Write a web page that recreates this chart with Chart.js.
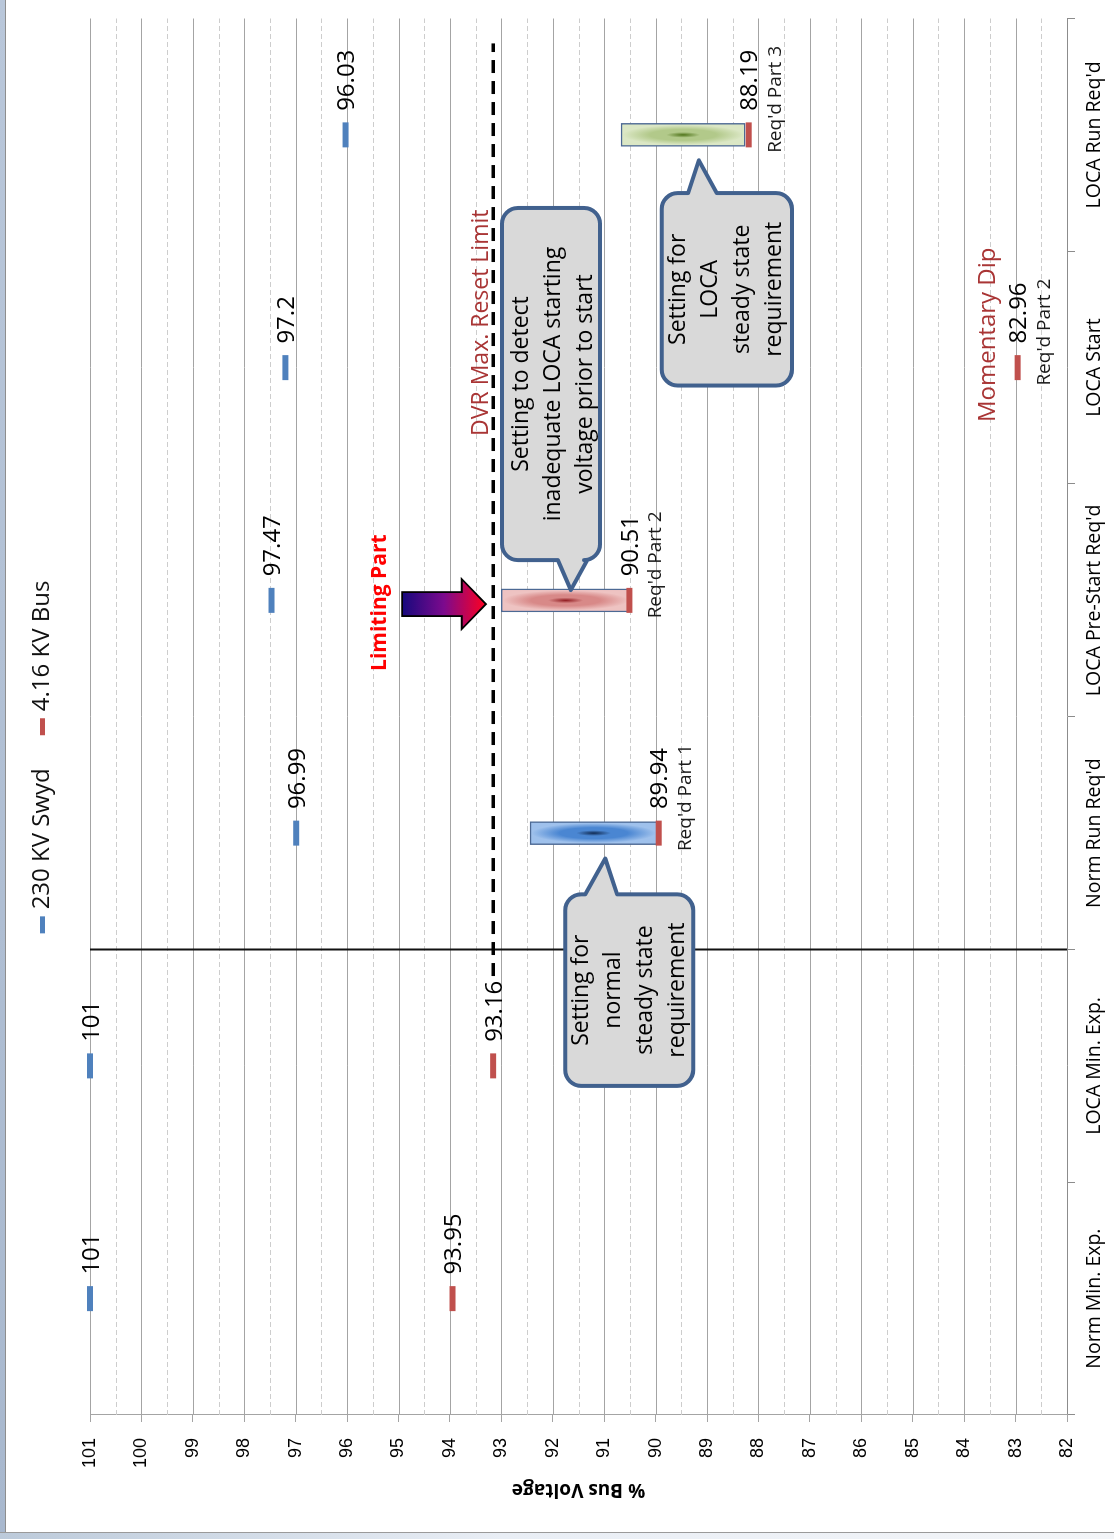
<!DOCTYPE html>
<html>
<head>
<meta charset="utf-8">
<title>% Bus Voltage</title>
<script src="https://cdn.jsdelivr.net/npm/chart.js@4.4.1/dist/chart.umd.min.js"></script>
<style>
    html, body { margin: 0; padding: 0; background: #fff; }
    body { width: 1114px; height: 1539px; position: relative; overflow: hidden; }
    /* chart is laid out upright, then turned a quarter turn to the left */
    #turn { position: absolute; left: 0; top: 0; width: 1539px; height: 1114px;
            transform-origin: 0 0; transform: translateY(1539px) rotate(-90deg); }
    #frameLeft { position: absolute; left: 0; top: 0; width: 5px; height: 1539px;
                 background: linear-gradient(#b9c7da, #a8b8ce); border-right: 1px solid #8e8e8e; }
    #frameBottom { position: absolute; left: 0; top: 1532px; width: 1114px; height: 7px;
                   background: linear-gradient(90deg, #bccada, #e9eef5 45%, #f3f5f8);
                   border-top: 1px solid #9a9a9a; }
</style>
</head>
<body>
<div id="turn"><canvas id="voltageChart" width="1539" height="1114"></canvas></div>
<div id="frameLeft"></div>
<div id="frameBottom"></div>
<script>
const categories = ['Norm Min. Exp.', 'LOCA Min. Exp.', "Norm Run Req'd", "LOCA Pre-Start Req'd", 'LOCA Start', "LOCA Run Req'd"];
const swydVoltage = [101, 101, 96.99, 97.47, 97.2, 96.03];
const busVoltage = [93.95, 93.16, 89.94, 90.51, 82.96, 88.19];
const busNotes = ['', '', "Req'd Part 1", "Req'd Part 2", "Req'd Part 2", "Req'd Part 3"];
const settingBands = [null, null, [89.97, 92.44], [90.5, 93.0], null, [88.26, 90.67]];
const dvrResetLimit = 93.16;
const voltageMin = 82;
const voltageMax = 101;

const SWYD_BLUE = '#4f81bd';
const BUS_RED = '#c0504d';
const NOTE_RED = '#a93535';

// light / mid / dark for each setting band
const bandPalettes = [null, null,
    { light: '#9fc1ec', mid: '#4a86d2', dark: '#102a52' },
    { light: '#eec3c2', mid: '#d88988', dark: '#921d22' },
    null,
    { light: '#dbe7c5', mid: '#b2c98a', dark: '#4f741a' }];

// annotations, placed in category units (c) and volts (v)
const callouts = [
    { c: [0.914, 1.737], v: [91.76, 89.27], side: 'right', base: [91.37, 90.75], tip: [1.891, 90.98],
      lines: ['Setting for', 'normal', 'steady state', 'requirement'], shift: 0 },
    { c: [3.173, 4.686], v: [92.99, 91.08], side: 'left', base: [91.90, 91.33], tip: [3.044, 91.65],
      lines: ['Setting to detect', 'inadequate LOCA starting', 'voltage prior to start'], shift: 2 },
    { c: [3.923, 4.75], v: [89.88, 87.35], side: 'right', base: [89.37, 88.81], tip: [4.891, 89.16],
      lines: ['Setting for', 'LOCA', 'steady state', 'requirement'], shift: 0 }
];
const limitArrow = { c: 2.984, from: 94.93, neck: 93.77, to: 93.30 };
const notes = [
    { text: 'Limiting Part', c: 2.99, v: 95.36, color: '#ff0000', font: 'bold 21px "Open Sans"' },
    { text: 'DVR Max. Reset Limit', c: 4.193, v: 93.38, color: NOTE_RED, font: '23px "Open Sans"' },
    { text: 'Momentary Dip', c: 4.141, v: 83.54, color: NOTE_RED, font: '24px "Open Sans"' }
];

const gridPlugin = {
    id: 'voltGrid',
    beforeDatasetsDraw(chart) {
        const { ctx, chartArea: a, scales: { y } } = chart;
        ctx.save();
        ctx.lineWidth = 1;
        for (let v = voltageMin + 0.5; v < voltageMax; v += 1) {
            const p = Math.round(y.getPixelForValue(v)) + 0.5;
            ctx.strokeStyle = '#cdcdcd';
            ctx.setLineDash([5, 3]);
            ctx.beginPath(); ctx.moveTo(a.left, p); ctx.lineTo(a.right, p); ctx.stroke();
        }
        ctx.setLineDash([]);
        for (let v = voltageMin + 1; v <= voltageMax; v += 1) {
            const p = Math.round(y.getPixelForValue(v)) + 0.5;
            ctx.strokeStyle = '#a4a4a4';
            ctx.beginPath(); ctx.moveTo(a.left, p); ctx.lineTo(a.right, p); ctx.stroke();
        }
        ctx.restore();
    }
};

const bandPlugin = {
    id: 'bandShade',
    afterDatasetDraw(chart, args) {
        if (args.meta.type !== 'bar') return;
        const ctx = chart.ctx;
        args.meta.data.forEach((el, i) => {
            const pal = bandPalettes[i];
            if (!pal || !settingBands[i]) return;
            const { x, y, base, width } = el.getProps(['x', 'y', 'base', 'width'], true);
            const top = Math.min(y, base) + 1.5, bottom = Math.max(y, base) - 1.5;
            const left = x - width / 2 + 1.5, right = x + width / 2 - 1.5;
            ctx.save();
            ctx.beginPath(); ctx.rect(left, top, right - left, bottom - top); ctx.clip();
            ctx.translate((left + right) / 2, (top + bottom) / 2);
            ctx.scale((right - left) / 2, (bottom - top) / 2);
            const g = ctx.createRadialGradient(0, 0, 0, 0, 0, 1);
            g.addColorStop(0, pal.dark);
            g.addColorStop(0.28, pal.mid);
            g.addColorStop(0.55, pal.mid);
            g.addColorStop(1, pal.light);
            ctx.fillStyle = g;
            ctx.fillRect(-1.2, -1.2, 2.4, 2.4);
            ctx.restore();
        });
    }
};

function calloutPath(ctx, L, R, T, B, r, side, a, b, tx, ty) {
    ctx.beginPath();
    ctx.moveTo(L + r, T);
    ctx.lineTo(R - r, T);
    ctx.arcTo(R, T, R, T + r, r);
    if (side === 'right') { ctx.lineTo(R, a); ctx.lineTo(tx, ty); ctx.lineTo(R, b); }
    ctx.lineTo(R, B - r);
    ctx.arcTo(R, B, R - r, B, r);
    ctx.lineTo(L + r, B);
    ctx.arcTo(L, B, L, B - r, r);
    if (side === 'left') { ctx.lineTo(L, b); ctx.lineTo(tx, ty); ctx.lineTo(L, a); }
    ctx.lineTo(L, T + r);
    ctx.arcTo(L, T, L + r, T, r);
    ctx.closePath();
}

const labelPlugin = {
    id: 'markLabels',
    afterDatasetsDraw(chart) {
        const { ctx, scales: { y, xl } } = chart;
        ctx.save();
        ctx.textAlign = 'left';
        ctx.textBaseline = 'alphabetic';
        // value labels beside the markers
        [0, 1].forEach(di => {
            const ds = chart.data.datasets[di];
            chart.getDatasetMeta(di).data.forEach((pt, i) => {
                ctx.fillStyle = '#000';
                ctx.font = '24px "Open Sans"';
                ctx.fillText(String(ds.data[i]), pt.x + 24, pt.y + 8.5);
                if (di === 1 && busNotes[i]) {
                    ctx.fillStyle = '#1a1a1a';
                    ctx.font = '19px "Open Sans"';
                    ctx.fillText(busNotes[i], pt.x - 18, pt.y + 32);
                }
            });
        });

        // block arrow
        const ax = xl.getPixelForValue(limitArrow.c);
        const y0 = y.getPixelForValue(limitArrow.from);
        const yn = y.getPixelForValue(limitArrow.neck);
        const yt = y.getPixelForValue(limitArrow.to);
        const g = ctx.createLinearGradient(0, y0, 0, yt);
        g.addColorStop(0, '#17097d');
        g.addColorStop(0.5, '#7c0a8d');
        g.addColorStop(1, '#ff0020');
        ctx.beginPath();
        ctx.moveTo(ax - 12, y0); ctx.lineTo(ax + 12, y0); ctx.lineTo(ax + 12, yn);
        ctx.lineTo(ax + 25, yn); ctx.lineTo(ax, yt); ctx.lineTo(ax - 25, yn);
        ctx.lineTo(ax - 12, yn); ctx.closePath();
        ctx.fillStyle = g; ctx.fill();
        ctx.strokeStyle = '#000'; ctx.lineWidth = 1.8; ctx.lineJoin = 'miter'; ctx.stroke();

        // callouts
        callouts.forEach(co => {
            const L = xl.getPixelForValue(co.c[0]), R = xl.getPixelForValue(co.c[1]);
            const T = y.getPixelForValue(co.v[0]), B = y.getPixelForValue(co.v[1]);
            const a = y.getPixelForValue(co.base[0]), b = y.getPixelForValue(co.base[1]);
            calloutPath(ctx, L, R, T, B, 16, co.side, a, b,
                xl.getPixelForValue(co.tip[0]), y.getPixelForValue(co.tip[1]));
            ctx.fillStyle = '#d9d9d9'; ctx.fill();
            ctx.strokeStyle = '#41618e'; ctx.lineWidth = 4; ctx.lineJoin = 'round'; ctx.stroke();
            ctx.fillStyle = '#000';
            ctx.font = '23px "Open Sans"';
            ctx.textAlign = 'center';
            ctx.textBaseline = 'middle';
            const cx = (L + R) / 2, cy = (T + B) / 2 + co.shift;
            co.lines.forEach((line, k) => {
                ctx.fillText(line, cx, cy + (k - (co.lines.length - 1) / 2) * 32);
            });
        });

        // free notes
        notes.forEach(n => {
            ctx.fillStyle = n.color;
            ctx.font = n.font;
            ctx.textAlign = 'center';
            ctx.textBaseline = 'middle';
            ctx.fillText(n.text, xl.getPixelForValue(n.c), y.getPixelForValue(n.v));
        });
        ctx.restore();
    }
};

const legendPlugin = {
    id: 'topLegend',
    afterDraw(chart) {
        const ctx = chart.ctx;
        const items = chart.data.datasets.slice(0, 2);
        ctx.save();
        ctx.font = '24px "Open Sans"';
        const markW = 17, gap = 7, spacing = 33;
        const widths = items.map(d => markW + gap + ctx.measureText(d.label).width);
        const total = widths.reduce((s, w) => s + w, 0) + spacing * (items.length - 1);
        let x = 782 - total / 2;
        items.forEach((d, i) => {
            ctx.strokeStyle = d.borderColor;
            ctx.lineWidth = 5;
            ctx.beginPath(); ctx.moveTo(x, 42.5); ctx.lineTo(x + markW, 42.5); ctx.stroke();
            ctx.fillStyle = '#111';
            ctx.textAlign = 'left';
            ctx.textBaseline = 'middle';
            ctx.fillText(d.label, x + markW + gap, 42);
            x += widths[i] + spacing;
        });
        ctx.restore();
    }
};

const canvas = document.getElementById('voltageChart');
const voltageChart = new Chart(canvas.getContext('2d'), {
    data: {
        labels: categories,
        datasets: [{
            type: 'line',
            label: '230 KV Swyd',
            data: swydVoltage,
            showLine: false,
            borderColor: SWYD_BLUE,
            backgroundColor: SWYD_BLUE,
            pointStyle: 'line',
            pointRadius: 12.5,
            pointBorderWidth: 6,
            clip: false,
            order: 0
        }, {
            type: 'line',
            label: '4.16 KV Bus',
            data: busVoltage,
            showLine: false,
            borderColor: BUS_RED,
            backgroundColor: BUS_RED,
            pointStyle: 'line',
            pointRadius: 12.5,
            pointBorderWidth: 6,
            clip: false,
            order: 0
        }, {
            type: 'bar',
            label: 'Setting',
            data: settingBands,
            grouped: false,
            barThickness: 23,
            maxBarThickness: 23,
            backgroundColor: bandPalettes.map(p => p ? p.light : 'transparent'),
            borderColor: '#4c6994',
            borderWidth: 1.5,
            borderSkipped: false,
            order: 3
        }, {
            type: 'line',
            label: 'DVR Max. Reset Limit',
            xAxisID: 'xl',
            data: [{ x: 1.386, y: dvrResetLimit }, { x: 5.393, y: dvrResetLimit }],
            borderColor: '#000',
            borderWidth: 3.5,
            borderDash: [13, 8],
            pointRadius: 0,
            order: 2
        }, {
            type: 'line',
            label: 'Normal / LOCA',
            xAxisID: 'xl',
            data: [{ x: 1.5, y: voltageMin }, { x: 1.5, y: voltageMax }],
            borderColor: '#111',
            borderWidth: 2,
            pointRadius: 0,
            clip: false,
            order: 2
        }]
    },
    options: {
        responsive: false,
        animation: false,
        events: [],
        layout: { padding: { top: 90, right: 15, bottom: 0, left: 0 } },
        plugins: {
            legend: { display: false },
            tooltip: { enabled: false }
        },
        scales: {
            x: {
                type: 'category',
                offset: true,
                grid: { offset: true, drawOnChartArea: false, tickLength: 8, color: '#8c8c8c' },
                border: { color: '#8c8c8c' },
                ticks: { maxRotation: 0, autoSkip: false, padding: 8, color: '#000',
                         font: { family: 'Open Sans', size: 19.5 } },
                afterFit: s => { s.height = 47; }
            },
            xl: { type: 'linear', min: -0.5, max: 5.5, display: false },
            y: {
                type: 'linear',
                min: voltageMin,
                max: voltageMax,
                grid: { drawOnChartArea: false, tickLength: 7, color: '#a4a4a4' },
                border: { color: '#a4a4a4' },
                ticks: { stepSize: 1, padding: 16, color: '#000',
                         font: { family: 'Liberation Sans', size: 18 } },
                title: { display: true, text: '% Bus Voltage', color: '#000',
                         font: { family: 'Open Sans', size: 19, weight: 'bold' },
                         padding: { top: 38, bottom: 0 } },
                afterFit: s => { s.width = 124; }
            }
        }
    },
    plugins: [gridPlugin, bandPlugin, labelPlugin, legendPlugin]
});

if (document.fonts) {
    document.fonts.ready.then(() => voltageChart.draw());
}
</script>
</body>
</html>
